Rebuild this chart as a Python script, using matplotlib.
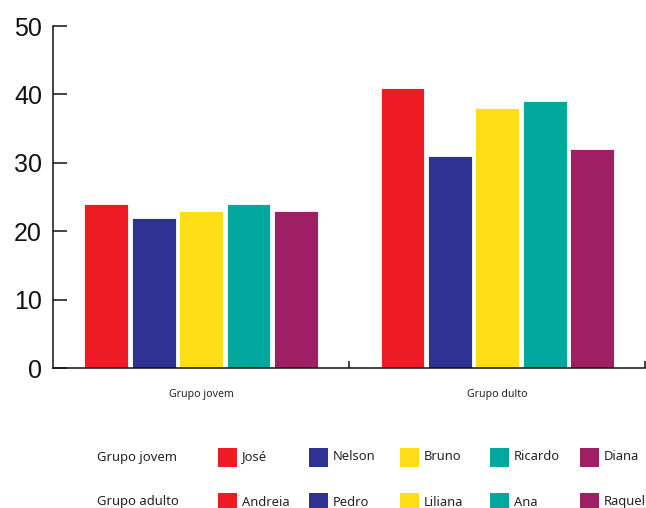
import matplotlib
matplotlib.use("Agg")
import matplotlib.pyplot as plt
from matplotlib.patches import Rectangle
import numpy as np

groups = ["Grupo jovem", "Grupo dulto"]
legend_rows = ["Grupo jovem", "Grupo adulto"]
names_young = ["José", "Nelson", "Bruno", "Ricardo", "Diana"]
names_adult = ["Andreia", "Pedro", "Liliana", "Ana", "Raquel"]
values_young = [24, 22, 23, 24, 23]
values_adult = [41, 31, 38, 39, 32]
colors = ["#ED1C24", "#2E3192", "#FFDE17", "#00A79D", "#9E1F63"]

W, H = 646, 508
fig = plt.figure(figsize=(W / 100, H / 100), dpi=100)
ax = fig.add_axes([53 / W, 1 - 368 / H, 1 - 53 / W - 0.001, (368 - 26) / H])

x = np.arange(len(groups))
step = 0.16
width = 0.148
for i in range(5):
    vals = [values_young[i], values_adult[i]]
    ax.bar(x + (i - 2) * step, vals, width=width, color=colors[i],
           edgecolor="white", linewidth=0.6, zorder=2)

ax.set_xlim(-0.5, 1.5)
ax.set_ylim(0, 50)
ax.set_yticks([0, 10, 20, 30, 40, 50])
ax.set_xticks(x)
ax.set_xticklabels(groups, fontsize=7.6, color="#222222", family="Noto Sans")
ax.set_xticks([0.5, 1.5], minor=True)

for s in ["top", "right"]:
    ax.spines[s].set_visible(False)
for s in ["left", "bottom"]:
    ax.spines[s].set_linewidth(1.1)
    ax.spines[s].set_color("#111111")

ax.tick_params(axis="y", direction="in", length=10, width=1.1, pad=8,
               labelsize=18, colors="#111111")
for lbl in ax.get_yticklabels():
    lbl.set_family("Liberation Sans")
ax.tick_params(axis="x", which="major", length=0, pad=15)
ax.tick_params(axis="x", which="minor", direction="in", length=5, width=1.1,
               color="#111111")

# Legend laid out as a two-row grid below the plot
col_left = [218, 309, 400, 490, 580]
row_y = [457, 502]
sq = 19
for r, (row_label, names) in enumerate(zip(legend_rows, [names_young, names_adult])):
    yc = row_y[r]
    fig.text(97 / W, 1 - yc / H, row_label, fontsize=9.4, family="Noto Sans",
             color="#222222", va="center", ha="left")
    for c, name in enumerate(names):
        fig.patches.append(Rectangle((col_left[c] / W, 1 - (yc + sq / 2) / H),
                                     sq / W, sq / H, transform=fig.transFigure,
                                     facecolor=colors[c], edgecolor="none"))
        fig.text((col_left[c] + sq + 5) / W, 1 - yc / H, name, fontsize=9.3,
                 family="Noto Sans", color="#222222", va="center", ha="left")

fig.savefig("out.png", dpi=100)
